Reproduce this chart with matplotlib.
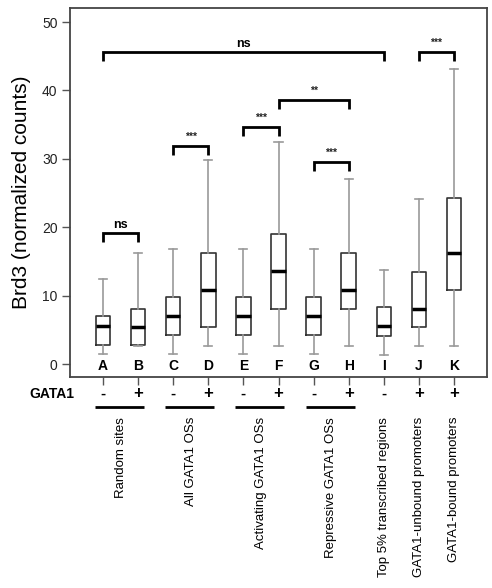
import matplotlib
matplotlib.use("Agg")
import matplotlib.pyplot as plt
from matplotlib.transforms import blended_transform_factory

plt.rcParams['font.family'] = ['Liberation Sans', 'DejaVu Sans']

# ---- data ----
letters = ["A", "B", "C", "D", "E", "F", "G", "H", "I", "J", "K"]
gata1 = ["-", "+", "-", "+", "-", "+", "-", "+", "-", "+", "+"]
whislo = [1.4, 2.7, 1.4, 2.7, 1.4, 2.7, 1.4, 2.7, 1.3, 2.6, 2.6]
q1 = [2.8, 2.8, 4.2, 5.4, 4.2, 8.1, 4.2, 8.1, 4.1, 5.4, 10.8]
med = [5.55, 5.45, 7.0, 10.8, 7.0, 13.55, 7.0, 10.8, 5.5, 8.1, 16.2]
q3 = [7.0, 8.1, 9.75, 16.3, 9.75, 18.95, 9.75, 16.2, 8.3, 13.45, 24.3]
whishi = [12.5, 16.3, 16.8, 29.8, 16.8, 32.4, 16.8, 27.0, 13.8, 24.1, 43.2]

groups = ["Random sites", "All GATA1 OSs", "Activating GATA1 OSs",
          "Repressive GATA1 OSs", "Top 5% transcribed regions",
          "GATA1-unbound promoters", "GATA1-bound promoters"]
group_members = [(0, 1), (2, 3), (4, 5), (6, 7), (8,), (9,), (10,)]

# significance brackets: (from index, to index, height, label)
sig_from = [0, 0, 2, 4, 5, 6, 9]
sig_to = [8, 1, 3, 5, 7, 7, 10]
sig_y = [45.6, 19.15, 31.9, 34.6, 38.6, 29.5, 45.6]
sig_lab = ["ns", "ns", "***", "***", "**", "***", "***"]

yticks = [0, 10, 20, 30, 40, 50]

# ---- figure ----
fig = plt.figure(figsize=(4.92, 5.88), dpi=100)
ax = fig.add_axes([70 / 492, 1 - 377 / 588, 417 / 492, 369 / 588])

positions = list(range(1, len(letters) + 1))
stats = [dict(whislo=a, q1=b, med=c, q3=d, whishi=e, fliers=[])
         for a, b, c, d, e in zip(whislo, q1, med, q3, whishi)]
ax.bxp(stats, positions=positions, widths=0.41, showfliers=False,
       boxprops=dict(color="#333333", linewidth=1.2),
       whiskerprops=dict(color="#9a9a9a", linewidth=1.2),
       capprops=dict(color="#9a9a9a", linewidth=1.2),
       medianprops=dict(color="black", linewidth=2.5),
       capwidths=0.23)

ax.set_xlim(0.057, 11.943)
ax.set_ylim(-1.9, 52.05)
ax.set_yticks(yticks)
ax.set_yticklabels([str(t) for t in yticks], fontsize=10, color="#222222")
ax.set_xticks(positions)
ax.set_xticklabels([])
ax.tick_params(axis="y", direction="out", length=6, width=1.0, color="#555555", pad=3)
ax.tick_params(axis="x", direction="out", length=6, width=1.0, color="#555555")
for s in ax.spines.values():
    s.set_color("#444444")
    s.set_linewidth(1.3)

ax.set_ylabel("Brd3 (normalized counts)", fontsize=15, labelpad=8)

# letters inside the axes
for p, l in zip(positions, letters):
    ax.text(p, -0.3, l, ha="center", va="center", fontsize=10, fontweight="bold")

# significance brackets
tick = 1.3
for a, b, y, lab in zip(sig_from, sig_to, sig_y, sig_lab):
    x1, x2 = positions[a], positions[b]
    ax.plot([x1, x1, x2, x2], [y - tick, y, y, y - tick], color="black",
            linewidth=2.0, solid_joinstyle="miter", solid_capstyle="butt")
    if lab == "ns":
        ax.text((x1 + x2) / 2, y + 0.25, lab, ha="center", va="bottom",
                fontsize=9, fontweight="bold")
    else:
        ax.text((x1 + x2) / 2, y + 0.6, lab, ha="center", va="bottom",
                fontsize=7.5, fontweight="bold", color="#222222")

# below the axes
tr = blended_transform_factory(ax.transData, ax.transAxes)
for p, g in zip(positions, gata1):
    ax.text(p, -0.046, g, transform=tr, ha="center", va="center",
            fontsize=12 if g == "+" else 11, fontweight="bold", clip_on=False)
fig.text(52 / 492, 1 - 394 / 588, "GATA1", ha="center", va="center",
         fontsize=10, fontweight="bold")

for name, mem in zip(groups, group_members):
    xs = [positions[i] for i in mem]
    if len(mem) == 2:
        ax.plot([xs[0] - 0.23, xs[1] + 0.17], [-0.0813, -0.0813], transform=tr,
                color="black", linewidth=2.0, clip_on=False,
                solid_capstyle="butt")
    xc = sum(xs) / len(xs)
    ax.text(xc, -0.108, name, transform=tr, rotation=90, ha="center",
            va="top", fontsize=9.5, clip_on=False)

fig.savefig("out.png", dpi=100)
